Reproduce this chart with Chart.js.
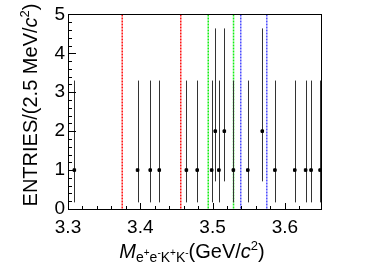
<!DOCTYPE html>
<html>
<head>
<meta charset="utf-8">
<script src="https://cdn.jsdelivr.net/npm/chart.js@4"></script>
<style>
  body { margin: 0; background: #fff; }
  #c { display: block; }
</style>
</head>
<body>
<canvas id="c" width="378" height="272"></canvas>
<script>
// bin centres (2.5 MeV bins) and entries
var massValues = [3.30875, 3.39625, 3.41375, 3.42625, 3.46375, 3.47875, 3.49875, 3.50375, 3.50875,
                  3.51625, 3.52875, 3.54875, 3.56875, 3.58625, 3.61375, 3.62875, 3.63625, 3.64875];
var entries    = [1, 1, 1, 1, 1, 1, 1, 2, 1, 2, 1, 1, 2, 1, 1, 1, 1, 1];
var errLow     = [0.83, 0.83, 0.83, 0.83, 0.83, 0.83, 0.83, 1.29, 0.83, 1.29, 0.83, 0.83, 1.29, 0.83, 0.83, 0.83, 0.83, 0.83];
var errHigh    = [2.30, 2.30, 2.30, 2.30, 2.30, 2.30, 2.30, 2.64, 2.30, 2.64, 2.30, 2.30, 2.64, 2.30, 2.30, 2.30, 2.30, 2.30];

// signal / sideband windows
var redCuts   = [3.375, 3.456];
var greenCuts = [3.494, 3.529];
var blueCuts  = [3.539, 3.575];

var FONT = "'Liberation Sans', Arial, Helvetica, sans-serif";

function isMultiple(v, step) {
    var r = v / step;
    return Math.abs(r - Math.round(r)) < 1e-6;
}

// draw a run of text pieces (font, vertical offset) centred on cx
function drawPieces(ctx, pieces, cx, baseY) {
    var total = 0;
    pieces.forEach(function (p) { ctx.font = p.font; p.w = ctx.measureText(p.t).width; total += p.w; });
    var x = cx - total / 2;
    pieces.forEach(function (p) {
        ctx.font = p.font;
        ctx.fillText(p.t, x, baseY + (p.dy || 0));
        x += p.w;
    });
}

var histPlugin = {
    id: 'hist',
    beforeDatasetsDraw: function (chart) {
        var ctx = chart.ctx, xs = chart.scales.x, ys = chart.scales.y, a = chart.chartArea;
        ctx.save();
        // cut lines
        function cut(vals, col) {
            ctx.strokeStyle = col;
            ctx.lineWidth = 1.5;
            ctx.setLineDash([2, 1]);
            vals.forEach(function (v) {
                var px = xs.getPixelForValue(v);
                ctx.beginPath();
                ctx.moveTo(px, a.top);
                ctx.lineTo(px, a.bottom);
                ctx.stroke();
            });
        }
        cut(redCuts, '#ff1010');
        cut(greenCuts, '#10ee10');
        cut(blueCuts, '#4a4aff');
        ctx.setLineDash([]);
        // error bars
        ctx.strokeStyle = '#333';
        ctx.lineWidth = 1;
        for (var i = 0; i < massValues.length; i++) {
            var px = Math.round(xs.getPixelForValue(massValues[i])) + 0.5;
            ctx.beginPath();
            ctx.moveTo(px, ys.getPixelForValue(entries[i] - errLow[i]));
            ctx.lineTo(px, ys.getPixelForValue(entries[i] + errHigh[i]));
            ctx.stroke();
        }
        ctx.restore();
    },
    afterDraw: function (chart) {
        var ctx = chart.ctx, xs = chart.scales.x, ys = chart.scales.y, a = chart.chartArea;
        ctx.save();
        // frame
        ctx.strokeStyle = '#000';
        ctx.lineWidth = 1;
        ctx.strokeRect(Math.round(a.left) + 0.5, Math.round(a.top) + 0.5,
                       Math.round(a.right - a.left), Math.round(a.bottom - a.top));
        // inward ticks
        xs.ticks.forEach(function (t) {
            var px = Math.round(xs.getPixelForValue(t.value)) + 0.5;
            var len = isMultiple(t.value, 0.1) ? 6 : 3;
            ctx.beginPath();
            ctx.moveTo(px, a.bottom);
            ctx.lineTo(px, a.bottom - len);
            ctx.stroke();
        });
        ys.ticks.forEach(function (t) {
            var py = Math.round(ys.getPixelForValue(t.value)) + 0.5;
            var len = isMultiple(t.value, 1) ? 8 : 4;
            ctx.beginPath();
            ctx.moveTo(a.left, py);
            ctx.lineTo(a.left + len, py);
            ctx.stroke();
        });
        // axis titles
        ctx.fillStyle = '#000';
        ctx.textBaseline = 'alphabetic';
        ctx.textAlign = 'left';
        drawPieces(ctx, [
            { t: 'M', font: 'italic 20px ' + FONT },
            { t: 'e', font: '14px ' + FONT, dy: 4 },
            { t: '+', font: '10px ' + FONT, dy: -2 },
            { t: 'e', font: '14px ' + FONT, dy: 4 },
            { t: '-', font: '10px ' + FONT, dy: -2 },
            { t: 'K', font: '14px ' + FONT, dy: 4 },
            { t: '+', font: '10px ' + FONT, dy: -2 },
            { t: 'K', font: '14px ' + FONT, dy: 4 },
            { t: '-', font: '10px ' + FONT, dy: -2 },
            { t: '(GeV/', font: '20px ' + FONT },
            { t: 'c', font: 'italic 20px ' + FONT },
            { t: '2', font: '13px ' + FONT, dy: -8 },
            { t: ')', font: '20px ' + FONT }
        ], 192, 258);
        ctx.translate(37, 105);
        ctx.rotate(-Math.PI / 2);
        drawPieces(ctx, [
            { t: 'ENTRIES/(2.5 MeV/', font: '20px ' + FONT },
            { t: 'c', font: 'italic 20px ' + FONT },
            { t: '2', font: '13px ' + FONT, dy: -8 },
            { t: ')', font: '20px ' + FONT }
        ], 0, 0);
        ctx.restore();
    }
};

var points = massValues.map(function (m, i) { return { x: m, y: entries[i] }; });

new Chart(document.getElementById('c').getContext('2d'), {
    type: 'scatter',
    data: {
        datasets: [{
            data: points,
            pointStyle: 'rect',
            pointRadius: 1.8,
            borderWidth: 1,
            backgroundColor: '#000',
            borderColor: '#000',
            clip: false
        }]
    },
    options: {
        responsive: false,
        animation: false,
        layout: { padding: { top: 13, right: 57, left: 0, bottom: 0 } },
        plugins: { legend: { display: false }, tooltip: { enabled: false } },
        scales: {
            x: {
                type: 'linear',
                min: 3.3, max: 3.65,
                grid: { display: false, drawTicks: false },
                border: { display: false },
                afterFit: function (s) { s.height = 63; },
                ticks: {
                    stepSize: 0.02,
                    autoSkip: false,
                    maxRotation: 0,
                    padding: 7,
                    color: '#000',
                    font: { family: FONT, size: 19 },
                    callback: function (v) { return isMultiple(v, 0.1) ? v.toFixed(1) : ''; }
                }
            },
            y: {
                min: 0, max: 5,
                grid: { display: false, drawTicks: false },
                border: { display: false },
                afterFit: function (s) { s.width = 68; },
                ticks: {
                    stepSize: 0.2,
                    autoSkip: false,
                    padding: 3,
                    color: '#000',
                    font: { family: FONT, size: 19 },
                    callback: function (v) { return isMultiple(v, 1) ? Math.round(v).toString() : ''; }
                }
            }
        }
    },
    plugins: [histPlugin]
});
</script>
</body>
</html>
